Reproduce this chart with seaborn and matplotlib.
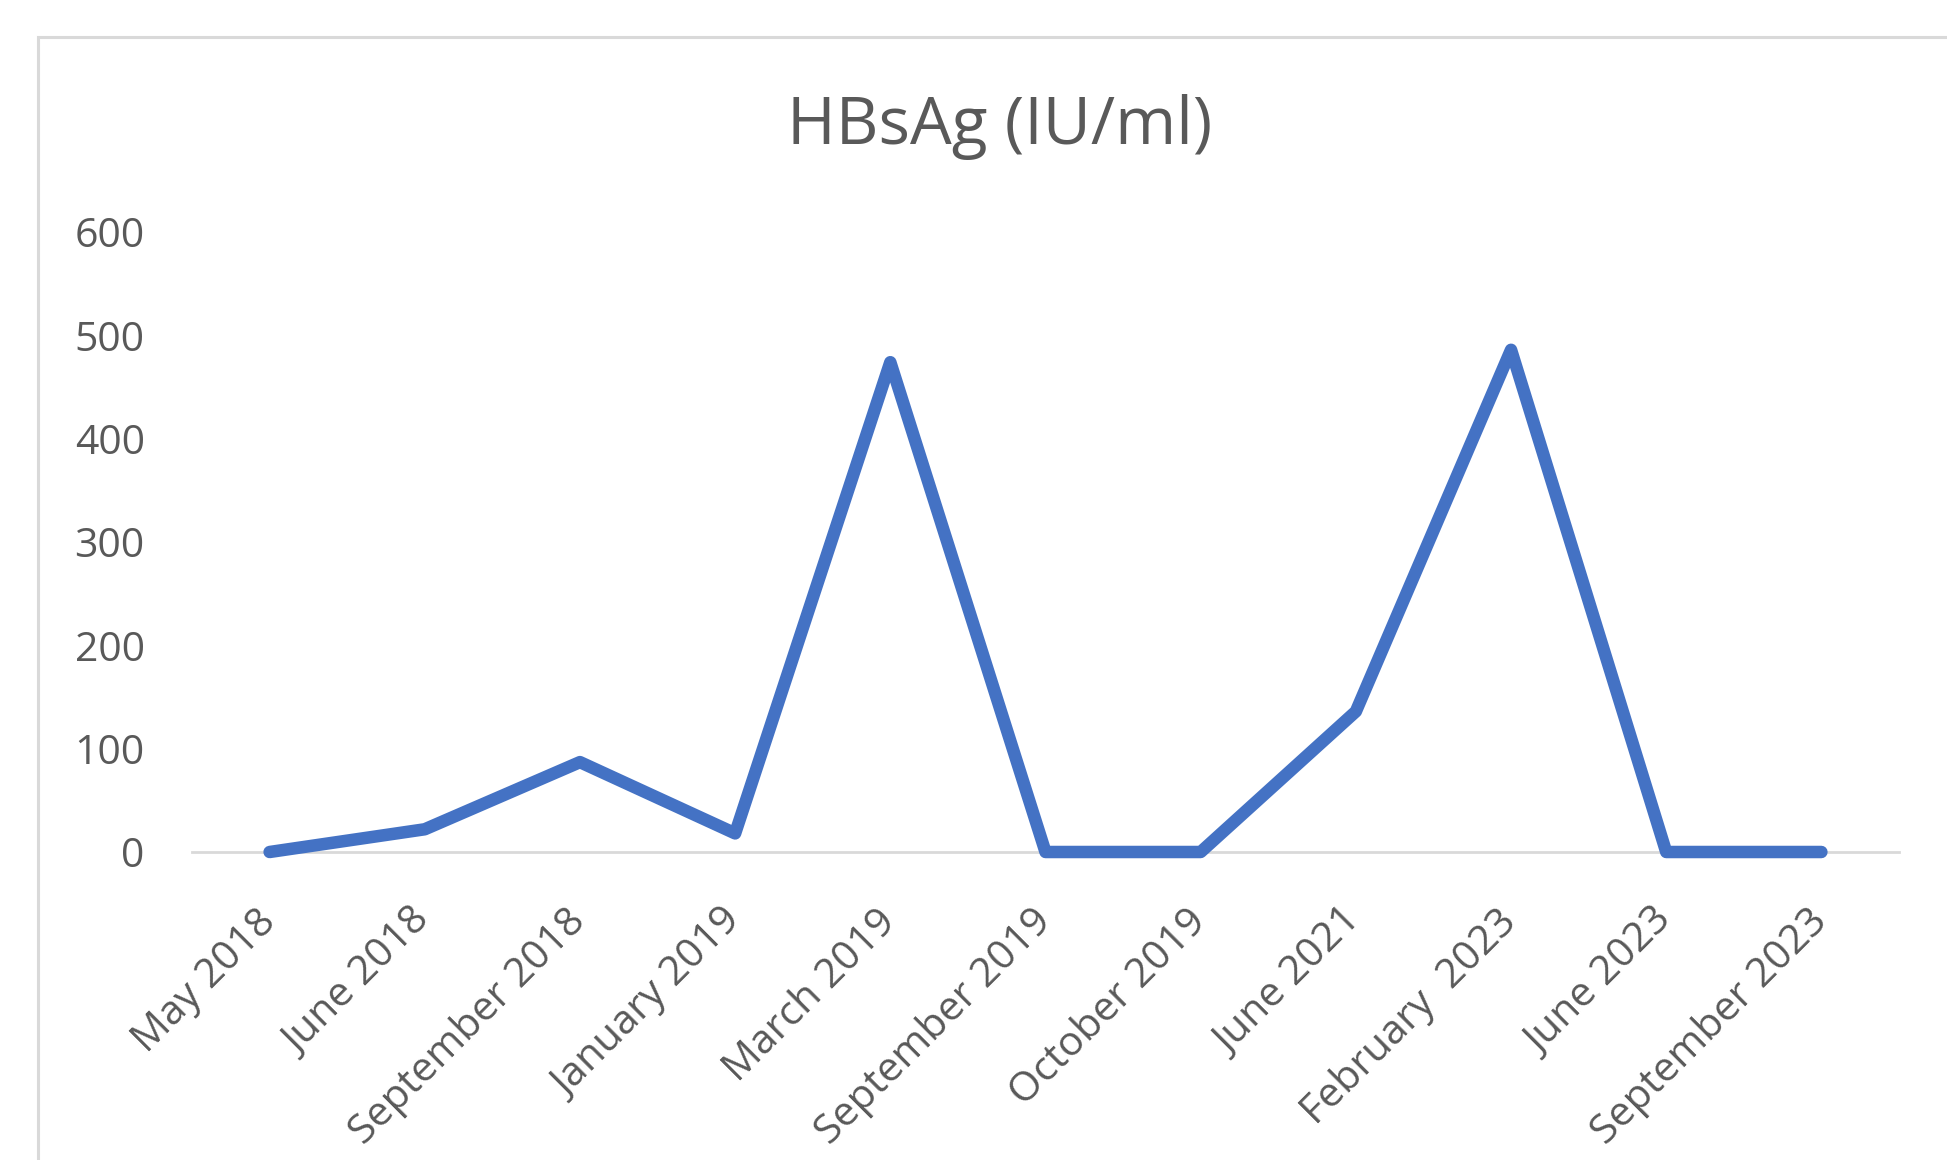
import matplotlib
matplotlib.use("Agg")
import matplotlib.pyplot as plt
from matplotlib.patches import Rectangle
import seaborn as sns
import pandas as pd

# HBsAg measurements over follow-up visits
visits = ["May 2018", "June 2018", "September 2018", "January 2019", "March 2019",
          "September 2019", "October 2019", "June 2021", "February  2023",
          "June 2023", "September 2023"]
hbsag = [0, 22, 87, 18, 474, 0, 0, 136, 486, 0, 0]
y_ticks = [0, 100, 200, 300, 400, 500, 600]

title = "HBsAg (IU/ml)"
line_color = "#4472C4"
text_color = "#595959"
axis_color = "#D9D9D9"

sns.set_theme(style="white")
plt.rcParams["font.family"] = ["Open Sans", "DejaVu Sans"]

W, H = 1947, 1160
fig = plt.figure(figsize=(W / 100, H / 100), dpi=100)
fig.patch.set_facecolor("white")

# chart-area frame (top and left edges visible)
fig.add_artist(Rectangle((38 / W, -0.2), 2.0, (H - 37) / H + 0.2,
                         transform=fig.transFigure, fill=False,
                         edgecolor=axis_color, linewidth=2.2, zorder=0))

left, right = 192 / W, 1899 / W
bottom, top = 1 - 852 / H, 1 - 232 / H
ax = fig.add_axes([left, bottom, right - left, top - bottom])

df = pd.DataFrame({"visit": pd.Categorical(visits, categories=visits, ordered=True),
                   "value": hbsag})
sns.lineplot(data=df, x="visit", y="value", ax=ax, sort=False,
             color=line_color, linewidth=9, clip_on=False,
             solid_joinstyle="round", solid_capstyle="round", zorder=3)

ax.set_xlim(-0.5, len(visits) - 0.5)
ax.set_ylim(0, 600)
ax.set_yticks(y_ticks)
ax.set_yticklabels([str(v) for v in y_ticks])
ax.set_xticks(range(len(visits)))
ax.set_xticklabels(visits, rotation=45, ha="right", rotation_mode="anchor",
                   va="center")

for s in ["top", "right", "left"]:
    ax.spines[s].set_visible(False)
ax.spines["bottom"].set_color(axis_color)
ax.spines["bottom"].set_linewidth(2.0)
ax.spines["bottom"].set_zorder(1)

ax.tick_params(axis="y", length=0, pad=34, labelsize=29.5, labelcolor=text_color)
ax.tick_params(axis="x", length=0, pad=46, labelsize=29.5, labelcolor=text_color)
ax.set_xlabel("")
ax.set_ylabel("")
ax.grid(False)
ax.set_facecolor("none")

fig.text(1000 / W, 1 - 127 / H, title, ha="center", va="center",
         fontsize=47.5, color=text_color)

fig.savefig("out.png", dpi=100, facecolor="white")
